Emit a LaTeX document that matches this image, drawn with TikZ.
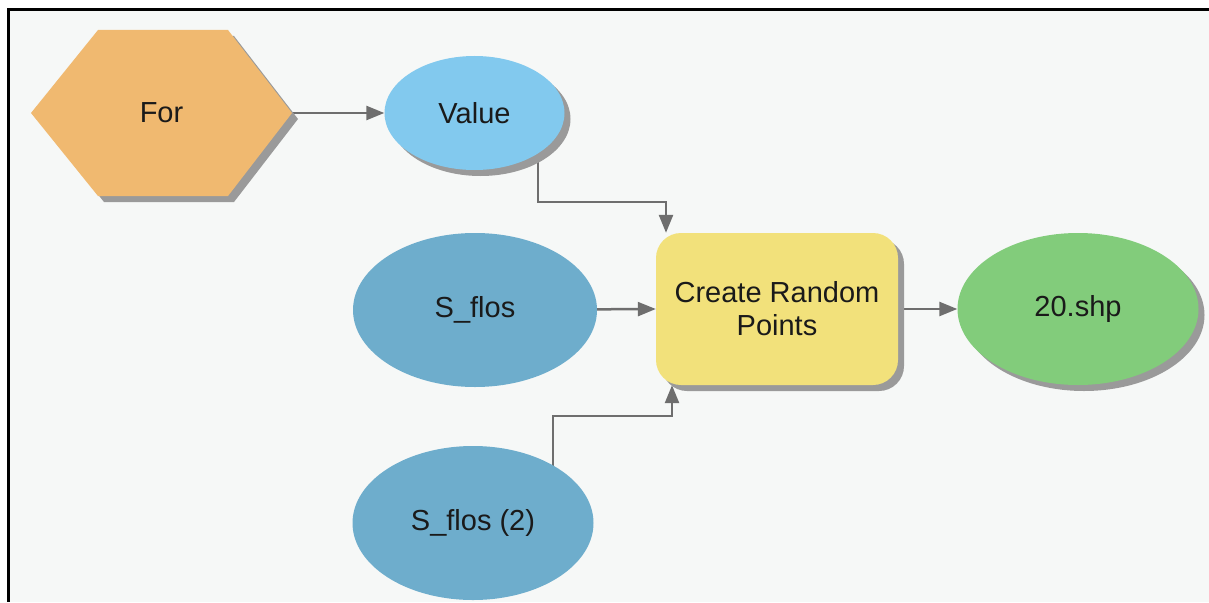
\documentclass[tikz,border=0pt]{standalone}
\usepackage{fontspec}
\setmainfont{Liberation Sans}
\usetikzlibrary{shapes.geometric,arrows.meta,shadows,backgrounds,calc}

\definecolor{canvas}{HTML}{F6F8F7}
\definecolor{forfill}{HTML}{F0B970}
\definecolor{valfill}{HTML}{82C9EE}
\definecolor{datafill}{HTML}{6EADCC}
\definecolor{toolfill}{HTML}{F2E17B}
\definecolor{outfill}{HTML}{82CC7B}
\definecolor{shade}{HTML}{9A9A9A}
\definecolor{linkgray}{HTML}{6E6E6E}
\definecolor{ink}{HTML}{1A1A1A}

\tikzset{
  label font/.style={font=\fontsize{29}{33}\selectfont, text=ink},
  boxshadow/.style={drop shadow={shadow xshift=6pt, shadow yshift=-6pt, fill=shade, opacity=1}},
  oval/.style={ellipse, inner sep=0pt, label font},
  valnode/.style={oval, fill=valfill, boxshadow},
  datanode/.style={oval, fill=datafill},
  outnode/.style={oval, fill=outfill, boxshadow},
  toolnode/.style={rectangle, rounded corners=25pt, fill=toolfill, inner sep=0pt,
    align=center, label font, boxshadow},
  conn/.style={draw=linkgray, line width=2.5pt,
    -{Triangle[length=18pt,width=14pt]}},
}

\begin{document}
\begin{tikzpicture}[x=1pt,y=-1pt]
\useasboundingbox (0,0) rectangle (1209,602);

% iterator: hexagon with its shadow
\path[fill=forfill, boxshadow]
  (31,113) -- (98,30) -- (228,30) -- (292,113) -- (228,196) -- (98,196) -- cycle;
\node[label font] (for) at (161.5,113) {For};
\coordinate (forR) at (292,113);

% variables, data and tool
\node[valnode, minimum width=180pt, minimum height=114pt] (value) at (474.5,113) {Value};
\node[datanode, minimum width=244pt, minimum height=154pt] (sflos) at (475,310) {S\_flos};
\node[datanode, minimum width=241pt, minimum height=154pt] (sflos2) at (473,523) {S\_flos (2)};
\node[toolnode, minimum width=242pt, minimum height=152pt] (tool) at (777,309)
  {Create Random\\Points};
\node[outnode, minimum width=241pt, minimum height=152pt] (out) at (1078,309) {20.shp};

\coordinate (vbend) at (600,202);
\coordinate (sbend) at (600,416);

\begin{scope}[on background layer]
  % canvas and frame
  \fill[white] (0,0) rectangle (1209,602);
  \fill[canvas] (9,10) rectangle (1209,602);
  \fill[black] (7,8) rectangle (1209,11);
  \fill[black] (7,8) rectangle (10,602);

  % connectors, drawn behind the nodes
  \draw[conn] (forR) -- (value.west);
  \draw[conn] ([xshift=63.5pt]value.center) |- (vbend) -| ([xshift=-111pt]tool.north);
  \draw[conn] (sflos.center) -- (tool.west);
  \draw[conn] ([xshift=80pt]sflos2.center) |- (sbend) -| ([xshift=-105pt]tool.south);
  \draw[conn] (tool.center) -- (out.west);
\end{scope}
\end{tikzpicture}
\end{document}
